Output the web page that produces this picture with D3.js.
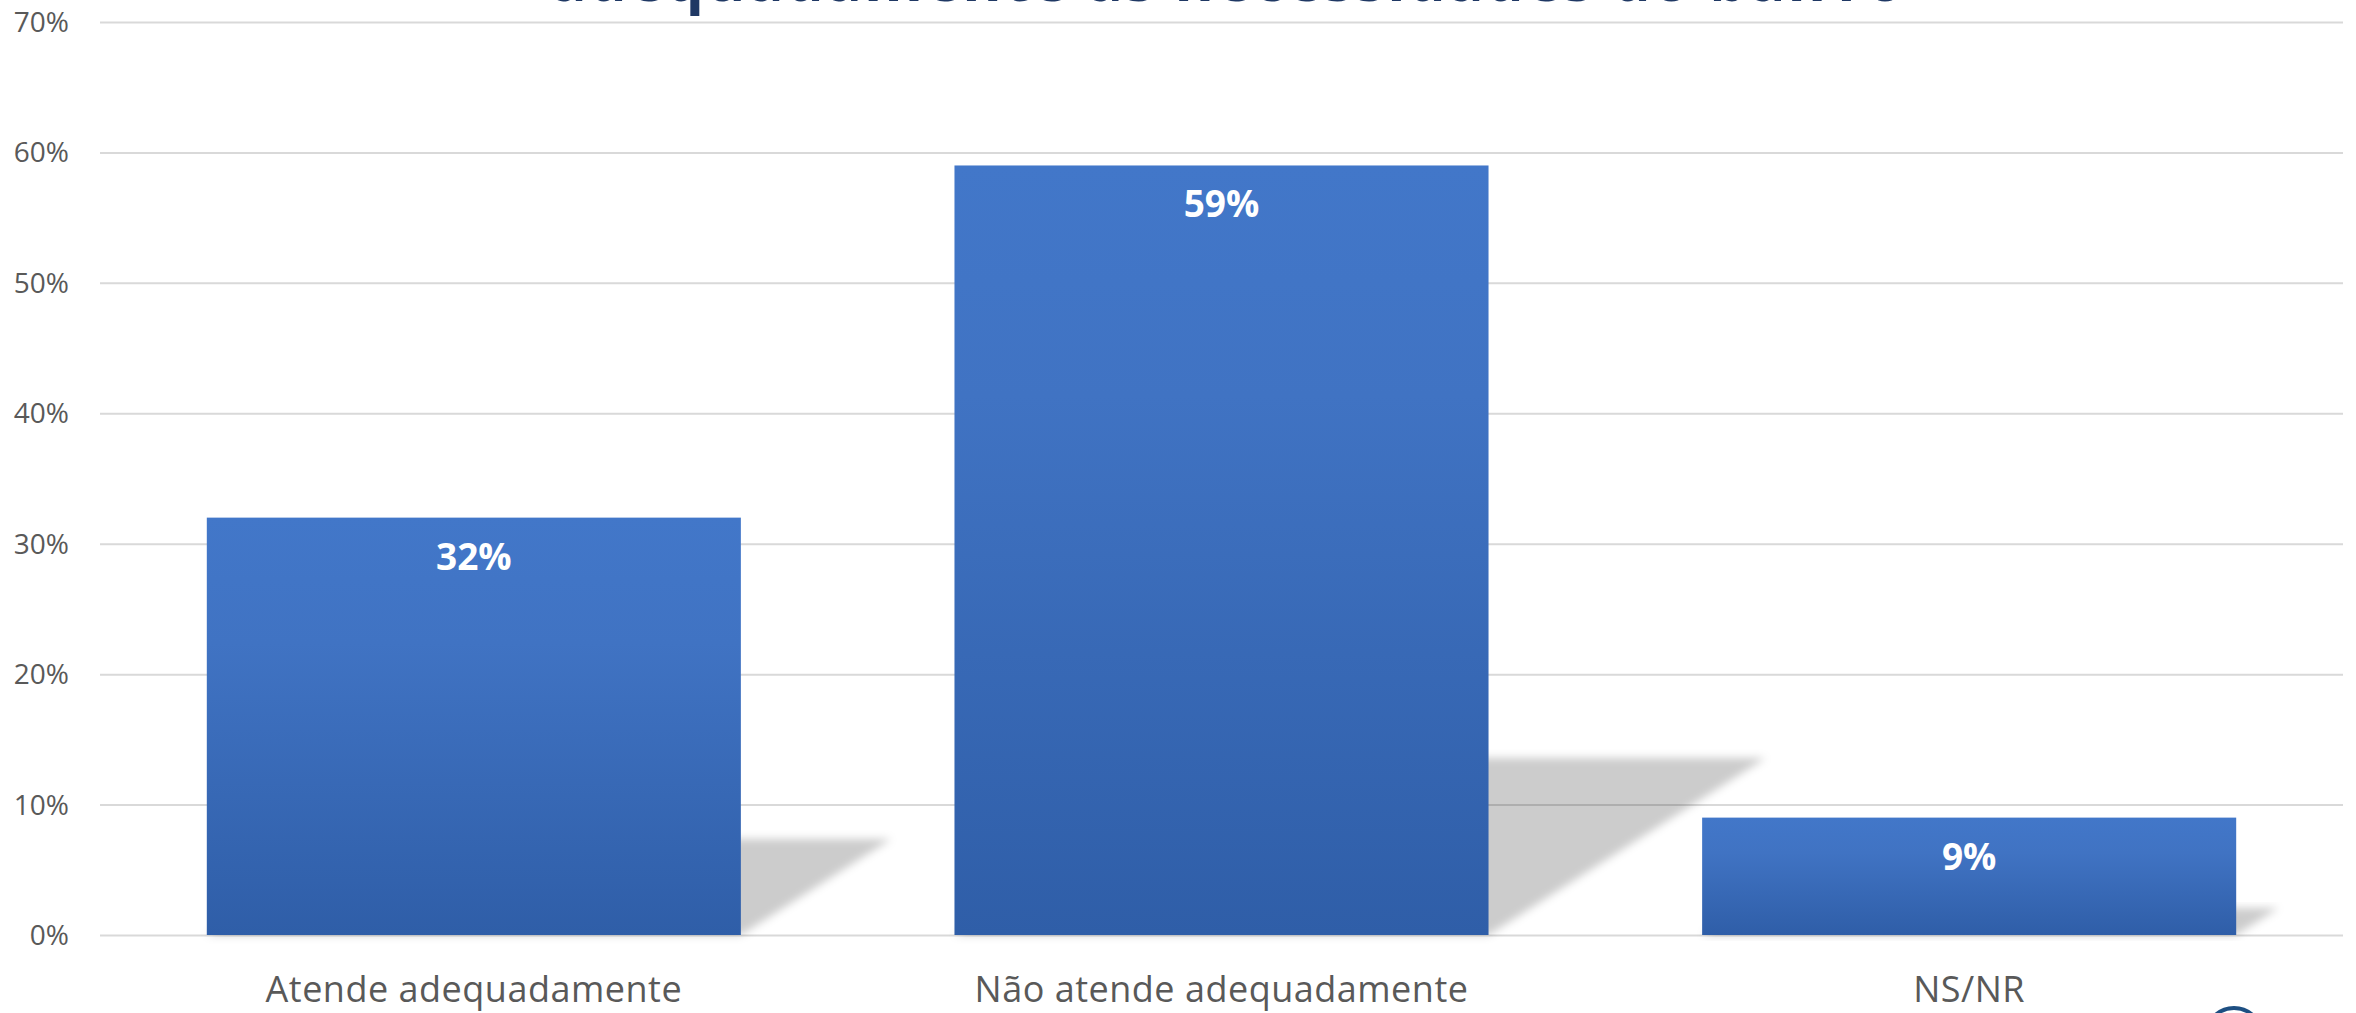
<!DOCTYPE html>
<html>
<head>
<meta charset="utf-8">
<script src="https://cdn.jsdelivr.net/npm/d3@7"></script>
<style>
  html, body { margin: 0; padding: 0; background: #ffffff; }
  svg { display: block; }
</style>
</head>
<body>
<svg id="chart" width="2356" height="1013"></svg>
<script>
const titleText = "adequadamente às necessidades do bairro";
const categories = ["Atende adequadamente", "Não atende adequadamente", "NS/NR"];
const values = [32, 59, 9];
const yTicks = [0, 10, 20, 30, 40, 50, 60, 70];

(function () {
const pLeft = 100, pRight = 2343, pTop = 22, pBottom = 935;

const svg = d3.select("#chart");
const defs = svg.append("defs");

const grad = defs.append("linearGradient")
  .attr("id", "barGrad").attr("x1", 0).attr("y1", 0).attr("x2", 0).attr("y2", 1);
grad.append("stop").attr("offset", "0%").attr("stop-color", "#4277c9");
grad.append("stop").attr("offset", "30%").attr("stop-color", "#4073c3");
grad.append("stop").attr("offset", "100%").attr("stop-color", "#2f5ea8");

const blur = defs.append("filter").attr("id", "shBlur")
  .attr("x", "-20%").attr("y", "-20%").attr("width", "140%").attr("height", "140%");
blur.append("feGaussianBlur").attr("stdDeviation", 4);

const x = d3.scaleBand().domain(categories).range([pLeft, pRight])
  .paddingInner(0.2857).paddingOuter(0.14285);
const y = d3.scaleLinear().domain([0, 70]).range([pBottom, pTop]);

// Title (mostly cropped above the frame, as in the original)
svg.append("text")
  .attr("x", 1228).attr("y", 0.5)
  .attr("text-anchor", "middle")
  .attr("font-family", "'Open Sans', sans-serif")
  .attr("font-weight", 700)
  .attr("font-size", 60)
  .attr("letter-spacing", 2)
  .attr("fill", "#1f3864")
  .text(titleText);

// Gridlines + y axis
const yAxis = d3.axisLeft(y).tickValues(yTicks).tickFormat(d => d + "%")
  .tickSize(-(pRight - pLeft)).tickPadding(31);
const gy = svg.append("g").attr("transform", `translate(${pLeft},0)`).call(yAxis);
gy.select(".domain").remove();
gy.selectAll(".tick line").attr("stroke", "#d9d9d9").attr("stroke-width", 2);
gy.selectAll(".tick text")
  .attr("font-family", "'Open Sans', sans-serif")
  .attr("font-size", 28)
  .attr("fill", "#595959")
  .attr("dy", "0.34em");

// Shadows
const data = categories.map((c, i) => ({ c, v: values[i] }));
svg.append("g").selectAll("path").data(data).join("path")
  .attr("d", d => {
    const x0 = x(d.c), x1 = x(d.c) + x.bandwidth();
    const y0 = y(0);
    const h = y(0) - y(d.v);
    const sh = 0.23 * h, dx = 0.36 * h;
    return `M${x0},${y0}L${x1},${y0}L${x1 + dx},${y0 - sh}L${x0 + dx},${y0 - sh}Z`;
  })
  .attr("fill", "rgba(0,0,0,0.2)")
  .attr("filter", "url(#shBlur)");

// Bars
svg.append("g").selectAll("rect").data(data).join("rect")
  .attr("x", d => x(d.c))
  .attr("y", d => y(d.v))
  .attr("width", x.bandwidth())
  .attr("height", d => y(0) - y(d.v))
  .attr("fill", "url(#barGrad)");

// Value labels
svg.append("g").selectAll("text").data(data).join("text")
  .attr("x", d => x(d.c) + x.bandwidth() / 2)
  .attr("y", d => y(d.v) + 52)
  .attr("text-anchor", "middle")
  .attr("font-family", "'Open Sans', sans-serif")
  .attr("font-weight", 700)
  .attr("font-size", 37)
  .attr("fill", "#ffffff")
  .text(d => d.v + "%");

// Category labels
svg.append("g").selectAll("text").data(categories).join("text")
  .attr("x", d => x(d) + x.bandwidth() / 2)
  .attr("y", 1002)
  .attr("text-anchor", "middle")
  .attr("font-family", "'Open Sans', sans-serif")
  .attr("font-size", 36)
  .attr("letter-spacing", 0.5)
  .attr("fill", "#595959")
  .text(d => d);

// Partial logo at bottom right
svg.append("circle")
  .attr("cx", 2234).attr("cy", 1036).attr("r", 28)
  .attr("fill", "none").attr("stroke", "#1d4f82").attr("stroke-width", 4);
})();
</script>
</body>
</html>
